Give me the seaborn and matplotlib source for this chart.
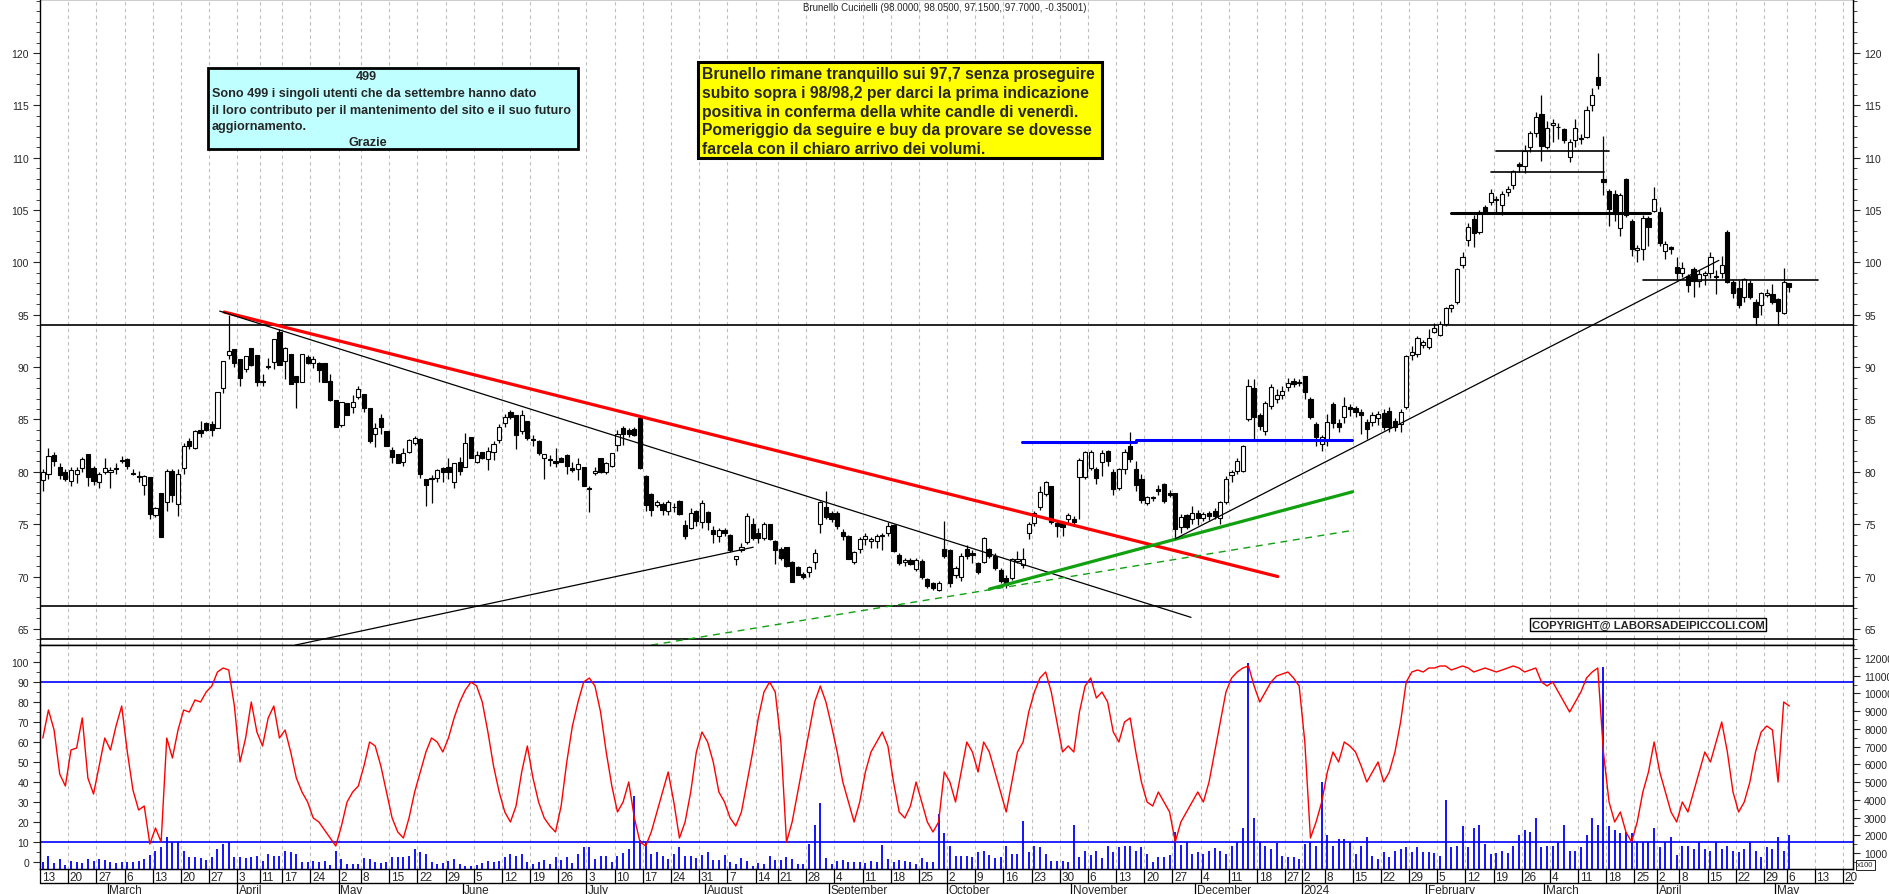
import numpy as np
import pandas as pd
import matplotlib
matplotlib.use("Agg")
import matplotlib.pyplot as plt
import matplotlib.transforms as mtransforms
from matplotlib.patches import Rectangle
from matplotlib.ticker import MultipleLocator
import seaborn as sns

# ---------------- data ----------------
holidays = ["2023-04-07", "2023-04-10", "2023-05-01", "2023-08-15", "2023-12-25",
            "2023-12-26", "2024-01-01", "2024-03-29", "2024-04-01", "2024-05-01"]

opens = [
    79.2, 79.8, 81.6, 80.5, 80.0, 79.1, 79.8, 80.4, 81.7, 80.4,
    79.0, 80.0, 80.0, 80.4, 81.0, 81.2, 79.9, 79.6, 78.7, 79.5,
    75.9, 78.0, 77.1, 80.1, 76.9, 80.4, 82.9, 82.3, 84.0, 84.7,
    84.6, 84.2, 88.0, 91.2, 91.7, 90.8, 89.8, 91.8, 91.2,
    88.7, 90.0, 90.5, 93.4, 90.6, 91.3, 89.2, 88.6, 91.0,
    90.4, 90.4, 90.4, 88.7, 86.9, 84.5, 86.6, 86.2, 87.1,
    87.4, 86.1, 83.6, 85.1, 83.9, 82.1, 81.7, 80.9, 81.9, 82.8,
    83.1, 79.3, 79.3, 79.4, 80.4, 80.5, 79.0, 80.9, 80.5, 83.3,
    80.9, 81.9, 81.2, 81.9, 83.0, 84.7, 85.7, 85.4, 83.9, 84.9,
    83.1, 82.9, 81.3, 81.2, 81.0, 81.3, 81.6, 80.4, 80.3, 80.5,
    78.4, 79.9, 81.3, 80.0, 80.6, 82.6, 84.2, 84.0, 84.1, 85.1,
    79.6, 77.9, 76.8, 76.9, 76.3, 76.6, 77.2, 74.9, 74.6, 76.3,
    75.2, 76.2, 74.4, 73.9, 74.4, 74.0, 71.7, 72.5, 73.3, 75.0,
    74.2, 73.7, 75.0, 73.4, 72.6, 72.8, 71.4, 70.9, 70.2,
    70.4, 71.4, 75.0, 76.6, 76.1, 76.1, 74.3, 73.9, 71.4, 72.6,
    73.6, 73.4, 73.4, 73.9, 74.2, 74.9, 72.1, 71.4, 71.6, 70.7,
    71.5, 69.8, 69.4, 68.7, 72.6, 72.5, 70.1, 70.0, 72.6, 72.2,
    71.3, 71.4, 72.6, 72.0, 70.6, 69.9, 69.9, 71.5, 71.1, 74.2,
    75.1, 76.6, 77.9, 78.6, 75.1, 75.2, 75.5, 75.5, 79.5, 79.5,
    80.4, 80.3, 80.9, 82.0, 80.0, 78.5, 80.3, 82.5, 80.3, 79.3,
    77.0, 77.6, 78.4, 78.8, 78.0, 78.0, 74.7, 75.9, 75.5, 76.1,
    75.6, 76.1, 76.3, 75.6, 77.1, 79.7, 80.1, 80.1, 85.0, 88.0,
    85.4, 83.9, 86.3, 87.0, 87.3, 88.1, 88.7, 88.6,
    89.2, 87.0, 84.6, 82.7, 83.0, 86.5, 84.7, 85.2, 86.2,
    86.1, 85.7, 84.8, 84.8, 85.1, 85.6, 85.8, 84.9, 84.6, 86.2,
    91.2, 91.3, 92.1, 91.9, 93.4, 93.1, 94.1, 95.6, 96.2, 99.8,
    102.1, 104.1, 102.9, 105.3, 105.8, 106.0, 105.5, 106.7, 107.4, 109.4,
    109.2, 111.0, 112.4, 114.2, 111.0, 113.1, 112.9, 112.7, 110.1, 111.7,
    111.8, 112.0, 115.0, 117.7, 108.0, 106.8, 106.5, 103.3, 108.0, 104.0,
    101.2, 101.3, 104.2, 104.9, 104.8, 101.1, 101.5, 99.6,
    99.0, 98.7, 99.4, 98.2, 98.8, 99.0, 98.7, 99.0, 102.9, 98.1,
    97.6, 96.7, 98.0, 96.2, 95.9, 96.9, 97.0, 96.5, 95.2, 98.0,
]

highs = [
    80.3, 82.3, 81.9, 80.8, 80.3, 80.5, 80.5, 81.4, 81.7, 80.6,
    80.0, 81.3, 80.5, 80.8, 81.5, 81.3, 80.3, 80.1, 79.7, 79.5,
    76.6, 78.0, 80.3, 80.3, 80.3, 82.8, 83.2, 84.0, 84.9, 84.8,
    84.9, 87.6, 90.6, 95.0, 91.7, 90.8, 91.1, 91.8, 91.2,
    89.3, 90.9, 92.7, 93.6, 91.9, 91.3, 89.2, 91.3, 91.2,
    91.1, 90.5, 90.4, 89.3, 86.9, 86.7, 86.6, 87.3, 88.2,
    87.4, 86.1, 84.7, 85.5, 83.9, 82.4, 81.7, 82.3, 83.1, 83.4,
    83.2, 79.3, 79.7, 80.3, 80.5, 81.3, 80.8, 81.4, 83.7, 83.3,
    82.0, 81.9, 82.4, 82.9, 84.6, 85.5, 85.9, 85.4, 85.9, 84.9,
    83.5, 83.0, 81.7, 81.6, 82.3, 81.4, 81.7, 80.9, 81.3, 80.5,
    78.6, 80.5, 81.3, 80.9, 81.8, 84.0, 84.4, 84.2, 84.3, 85.1,
    79.7, 78.0, 77.3, 77.1, 77.3, 77.0, 77.3, 75.4, 76.5, 76.4,
    77.3, 76.3, 74.8, 74.6, 74.6, 74.1, 72.0, 73.2, 76.1, 75.6,
    74.6, 75.2, 75.0, 73.5, 72.8, 72.8, 71.5, 71.0, 70.4,
    71.0, 72.6, 77.2, 78.2, 76.3, 76.3, 74.5, 74.0, 72.4, 73.8,
    74.2, 73.8, 74.1, 74.2, 75.2, 75.0, 72.2, 71.8, 71.8, 71.8,
    71.7, 69.9, 69.5, 69.6, 75.3, 72.6, 71.0, 72.2, 73.0, 72.5,
    71.4, 73.8, 72.7, 72.2, 70.8, 70.1, 71.8, 72.4, 72.7, 75.2,
    76.3, 78.6, 79.1, 78.6, 75.3, 75.3, 76.1, 75.8, 81.3, 82.0,
    82.1, 80.5, 82.1, 82.1, 80.3, 80.4, 82.2, 83.8, 81.0, 79.8,
    77.7, 77.7, 78.7, 78.9, 78.3, 78.0, 76.0, 76.0, 76.7, 76.4,
    76.2, 76.3, 76.5, 77.2, 79.6, 80.2, 81.3, 82.6, 88.9, 88.9,
    85.6, 86.8, 88.4, 87.9, 88.2, 89.0, 89.0, 88.9,
    89.2, 87.1, 84.8, 83.5, 85.5, 86.7, 85.0, 87.1, 86.5,
    86.3, 86.0, 85.0, 85.7, 85.8, 86.0, 86.2, 85.1, 86.0, 91.2,
    92.0, 93.0, 92.6, 93.6, 94.2, 94.4, 95.7, 96.0, 99.5, 101.0,
    103.8, 104.5, 105.0, 105.5, 107.0, 106.3, 106.8, 107.3, 108.8, 109.6,
    111.2, 112.6, 114.4, 116.0, 113.5, 113.7, 113.3, 112.8, 111.8, 113.7,
    112.3, 114.9, 116.7, 120.0, 112.1, 107.0, 106.9, 106.6, 108.1, 104.1,
    101.7, 104.5, 104.4, 107.2, 105.3, 102.0, 101.6, 100.5,
    100.0, 98.9, 99.6, 99.3, 99.2, 101.0, 99.3, 100.6, 103.1, 98.3,
    98.3, 98.5, 98.3, 96.5, 97.2, 97.5, 97.9, 96.6, 99.5, 98.05,
]

lows = [
    78.2, 79.3, 80.6, 79.3, 79.1, 78.6, 78.9, 80.0, 78.6, 78.7,
    78.5, 79.8, 78.5, 79.8, 80.8, 80.3, 79.7, 79.0, 77.8, 75.5,
    75.7, 73.8, 76.3, 77.1, 75.8, 79.8, 82.2, 82.2, 83.3, 83.9,
    83.4, 84.2, 87.5, 90.8, 90.0, 88.2, 89.5, 90.1, 88.2,
    88.2, 89.8, 89.8, 90.2, 88.9, 88.4, 86.1, 88.6, 90.3,
    89.9, 88.6, 88.6, 86.8, 84.3, 84.3, 85.4, 85.6, 87.0,
    85.7, 82.8, 82.4, 83.6, 82.5, 80.8, 80.8, 80.6, 81.8, 82.6,
    79.4, 76.7, 77.0, 79.0, 79.0, 79.3, 78.5, 79.7, 80.5, 81.3,
    80.8, 81.2, 80.2, 81.1, 82.8, 84.3, 85.0, 82.2, 83.6, 83.0,
    82.5, 81.6, 79.3, 80.6, 80.5, 80.9, 79.8, 80.0, 79.2, 78.6,
    76.2, 79.7, 79.9, 79.8, 80.5, 82.0, 82.6, 83.3, 83.4, 80.3,
    76.3, 75.8, 76.6, 75.9, 75.9, 76.2, 75.9, 73.6, 74.5, 74.8,
    74.6, 74.4, 73.2, 73.3, 73.9, 72.3, 71.1, 72.3, 73.1, 73.5,
    73.2, 73.5, 73.5, 71.2, 71.6, 70.9, 69.5, 70.1, 69.8,
    70.0, 70.7, 74.2, 75.5, 75.2, 74.5, 73.5, 71.7, 71.2, 72.2,
    73.0, 72.7, 72.7, 72.5, 73.9, 72.3, 71.1, 71.0, 71.1, 70.5,
    69.8, 68.9, 68.7, 68.6, 71.8, 69.0, 69.9, 69.6, 71.7, 71.3,
    70.2, 71.3, 71.8, 70.6, 69.4, 68.9, 69.7, 71.3, 70.8, 73.6,
    74.8, 76.4, 77.7, 75.0, 73.8, 73.9, 75.0, 74.8, 75.5, 79.3,
    80.2, 78.8, 79.6, 80.6, 77.8, 78.3, 79.8, 80.9, 78.2, 77.0,
    76.8, 77.2, 77.8, 77.0, 77.6, 73.6, 74.2, 74.5, 75.0, 74.9,
    75.3, 75.4, 75.5, 75.0, 76.9, 79.0, 79.8, 80.0, 84.9, 83.1,
    84.0, 83.5, 86.0, 86.6, 87.0, 87.7, 88.1, 88.2,
    87.0, 85.0, 82.5, 82.0, 82.5, 84.2, 83.8, 84.7, 85.3,
    85.2, 83.6, 83.1, 84.4, 84.5, 84.0, 83.8, 83.9, 83.8, 86.0,
    90.7, 91.0, 91.8, 91.7, 93.3, 93.0, 93.9, 95.3, 96.0, 99.5,
    101.6, 101.5, 102.7, 104.6, 105.5, 104.8, 104.5, 106.3, 107.0, 108.6,
    108.5, 110.5, 112.0, 109.7, 110.8, 111.5, 111.8, 111.4, 109.6, 111.0,
    111.3, 111.9, 114.5, 116.6, 106.4, 103.5, 104.0, 102.5, 104.3, 100.6,
    100.0, 100.2, 101.6, 104.8, 101.6, 100.3, 100.8, 98.4,
    98.6, 97.2, 96.7, 97.7, 97.8, 98.5, 97.0, 98.5, 98.0, 96.6,
    95.6, 96.2, 96.5, 94.0, 95.0, 96.7, 96.0, 94.0, 95.1, 97.15,
]

closes = [
    80.0, 81.5, 81.0, 79.7, 79.3, 80.2, 80.2, 81.2, 79.5, 79.1,
    79.8, 80.4, 80.2, 80.3, 81.1, 80.6, 79.8, 79.5, 79.6, 76.0,
    76.5, 73.8, 80.1, 77.8, 79.8, 82.5, 82.5, 83.9, 83.7, 84.0,
    84.0, 87.6, 90.6, 91.5, 90.4, 89.0, 91.1, 90.2, 88.6,
    88.6, 90.1, 92.7, 90.2, 91.8, 88.4, 88.6, 91.3, 90.4,
    90.8, 89.7, 88.6, 86.9, 84.3, 86.7, 85.4, 86.7, 87.9,
    86.1, 82.9, 84.2, 84.3, 82.5, 81.4, 80.8, 81.8, 83.0, 83.2,
    79.8, 78.7, 79.4, 80.2, 80.0, 80.0, 80.8, 80.1, 82.8, 81.3,
    81.6, 81.3, 82.0, 82.7, 84.3, 85.2, 85.2, 83.5, 85.4, 83.2,
    83.0, 81.8, 81.7, 81.1, 80.8, 80.9, 80.6, 80.2, 80.7, 78.6,
    78.4, 80.1, 80.0, 80.8, 81.8, 83.6, 83.6, 83.6, 83.5, 80.4,
    76.8, 76.4, 77.1, 76.4, 77.1, 76.6, 76.0, 73.9, 76.1, 75.3,
    77.0, 75.2, 74.1, 74.4, 74.2, 72.5, 72.0, 72.8, 75.8, 73.7,
    73.7, 75.0, 73.6, 72.5, 71.8, 71.0, 69.5, 70.1, 70.0,
    70.9, 72.2, 77.1, 75.7, 75.5, 74.8, 73.9, 71.7, 72.3, 73.6,
    73.9, 73.6, 73.9, 74.0, 74.8, 72.4, 71.3, 71.6, 71.2, 71.6,
    70.0, 69.1, 68.9, 69.4, 72.0, 69.4, 70.8, 72.0, 72.0, 72.1,
    70.4, 73.7, 72.0, 70.8, 69.6, 69.2, 71.7, 71.7, 71.7, 75.0,
    76.1, 78.1, 79.0, 75.2, 74.8, 74.7, 75.9, 75.2, 81.1, 81.9,
    81.9, 79.4, 81.8, 81.0, 78.4, 80.3, 81.9, 81.2, 78.7, 77.3,
    77.6, 77.5, 78.2, 77.2, 77.8, 74.5, 75.7, 74.7, 76.1, 75.6,
    76.0, 75.8, 75.8, 77.1, 79.3, 80.0, 81.0, 82.5, 88.2, 85.2,
    84.4, 86.6, 88.1, 87.3, 87.7, 88.5, 88.4, 88.5,
    87.6, 85.2, 83.3, 83.3, 84.8, 84.7, 84.3, 86.3, 86.0,
    85.7, 85.4, 84.1, 85.4, 85.5, 84.3, 84.3, 84.3, 85.7, 91.1,
    91.4, 92.8, 92.4, 92.8, 93.7, 94.1, 95.6, 95.9, 99.4, 100.5,
    103.4, 102.8, 104.8, 104.7, 106.6, 106.0, 106.5, 107.0, 108.7, 109.2,
    110.6, 112.4, 113.9, 111.1, 112.8, 113.3, 112.9, 111.7, 111.5, 112.8,
    111.9, 114.6, 116.0, 116.9, 107.7, 105.1, 104.6, 106.4, 104.5, 101.3,
    101.4, 104.2, 103.4, 106.1, 101.9, 101.8, 101.3, 99.0,
    99.5, 97.8, 98.2, 98.9, 99.0, 100.5, 98.6, 99.8, 98.1, 97.1,
    95.9, 98.4, 96.7, 94.8, 97.1, 97.1, 96.2, 95.4, 98.1, 97.7,
]

# volume, in hundreds of shares (right scale "x100")
volume = [
    512, 850, 436, 662, 324, 568, 512, 436, 662, 568, 662, 624, 512, 436, 474,
    474, 474, 568, 662, 888, 1132, 1320, 1900, 1602, 1640, 1132, 756, 756, 700, 600,
    756, 1226, 1508, 1640, 756, 756, 700, 756, 850, 568, 944, 850, 850, 1132, 1076,
    944, 474, 512, 568, 474, 568, 324, 1132, 662, 380, 380, 380, 700, 662, 512,
    436, 474, 756, 756, 756, 850, 1226, 1038, 944, 474, 380, 436, 568, 662, 380,
    248, 286, 324, 436, 568, 474, 568, 756, 944, 812, 944, 474, 380, 512, 624,
    380, 756, 624, 756, 436, 944, 1320, 1320, 662, 850, 850, 512, 850, 1000, 1226,
    4200, 1734, 1602, 944, 1038, 850, 662, 944, 1320, 850, 850, 700,
    888, 1038, 624, 624, 888, 474, 380, 700, 568, 286, 436, 380, 812, 624, 624,
    756, 662, 380, 380, 1508, 2600, 3800, 700, 380, 568, 624, 474, 474, 474, 436,
    568, 512, 1450, 662, 512, 624, 568, 474, 380, 700, 474, 474, 3200, 2100, 1376,
    812, 812, 812, 756, 1038, 1132, 888, 700, 756, 1376, 944, 944, 2800, 1076, 1376,
    1320, 944, 568, 568, 568, 512, 2600, 756, 1132, 888, 1132, 700, 1414, 1038, 1320,
    1376, 1414, 1132, 1320, 944, 512, 756, 756, 888, 2200, 1450, 1602, 944, 1038, 944,
    1132, 1264, 1132, 944, 1414, 1602, 2400, 11700, 3000, 1640, 1414, 1226, 1564, 850, 756,
    756, 662, 1508, 1602, 1414, 5000, 2000, 1414, 1800, 1800, 1602, 944, 1414, 1900, 850,
    662, 1038, 756, 1132, 1200, 1320, 1038, 1320, 1076, 1076, 1000, 850, 4000, 1320, 1414,
    2500, 1320, 2400, 2600, 1508, 944, 1000, 1132, 1000, 1414, 2000, 2300, 2200, 3000, 1320,
    1414, 1414, 1602, 2600, 1132, 1132, 1320, 2000, 3000, 2600, 11500, 2500, 2300, 2100, 2200,
    2100, 1602, 1602, 1602, 2400, 1320, 1602, 1900, 888, 1414, 1414, 1226, 1602, 1226, 1132,
    1602, 1226, 1414, 1132, 1038, 1226, 1602, 1132, 756, 1320, 1226, 1900, 1100, 2000,
]

# oscillator (red line, left scale 0-100)
stoch = [
    62, 76, 66, 44, 38, 56, 57, 72, 42, 34, 48, 62, 56, 68, 78,
    55, 36, 26, 28, 9, 17, 10, 62, 52, 66, 76, 75, 81, 80, 85,
    88, 95, 97, 96, 78, 50, 62, 80, 65, 58, 72, 78, 62, 66, 55,
    42, 35, 30, 22, 20, 16, 12, 8, 18, 30, 35, 38, 48, 60, 58,
    48, 35, 22, 15, 12, 22, 35, 45, 55, 62, 60, 55, 62, 72, 80,
    86, 90, 88, 80, 65, 48, 35, 25, 20, 28, 45, 58, 42, 30, 22,
    18, 15, 28, 50, 68, 80, 90, 92, 88, 75, 55, 38, 25, 30, 40,
    22, 10, 8, 15, 25, 35, 45, 30, 12, 20, 35, 55, 65, 60, 50,
    35, 30, 22, 18, 25, 40, 55, 72, 85, 90, 85, 60, 10, 20, 35,
    50, 65, 80, 88, 80, 68, 55, 40, 30, 20, 30, 45, 55, 60, 65,
    58, 40, 25, 22, 28, 40, 30, 20, 15, 20, 45, 40, 30, 45, 60,
    55, 45, 60, 55, 45, 35, 25, 40, 55, 60, 75, 85, 92, 95, 85,
    70, 55, 58, 55, 75, 88, 92, 82, 85, 80, 65, 60, 70, 72, 55,
    40, 30, 28, 35, 30, 25, 10, 20, 25, 30, 35, 30, 40, 55, 70,
    85, 92, 95, 97, 98, 88, 80, 85, 90, 93, 94, 95, 92, 88, 60,
    12, 20, 30, 45, 55, 50, 60, 58, 55, 48, 40, 45, 50, 40, 45,
    55, 70, 90, 95, 96, 95, 97, 97, 98, 98, 96, 97, 98, 97, 95,
    96, 97, 96, 95, 96, 97, 98, 97, 95, 96, 97, 90, 88, 90, 85,
    80, 75, 80, 85, 92, 95, 97, 55, 30, 20, 25, 15, 10, 20, 35,
    45, 60, 45, 35, 25, 20, 30, 25, 35, 45, 55, 50, 60, 70, 55,
    35, 25, 30, 40, 55, 65, 68, 66, 40, 80, 78,
]

month_names = ["January", "February", "March", "April", "May", "June", "July",
               "August", "September", "October", "November", "December"]

title = "Brunello Cucinelli (98.0000, 98.0500, 97.1500, 97.7000, -0.35001)"
note_yellow = ["Brunello rimane tranquillo sui 97,7 senza proseguire",
               "subito sopra i 98/98,2 per darci la prima indicazione",
               "positiva in conferma della white candle di venerdì.",
               "Pomeriggio da seguire e buy da provare se dovesse",
               "farcela con il chiaro arrivo dei volumi."]
note_cyan = ["Sono 499 i singoli utenti che da settembre hanno dato",
             "il loro contributo per il mantenimento del sito e il suo futuro",
             "aggiornamento."]

# ---------------- dates / positions ----------------
dates = pd.bdate_range("2023-02-13", "2024-05-06")
dates = dates[~dates.isin(pd.to_datetime(holidays))]
assert len(dates) == len(closes) == len(opens) == len(highs) == len(lows)
assert len(volume) == len(closes) and len(stoch) == len(closes)
future = pd.bdate_range("2024-05-07", "2024-05-31")
axis_dates = dates.append(future)

df = pd.DataFrame({"date": dates, "open": opens, "high": highs, "low": lows,
                   "close": closes, "volume": volume, "stoch": stoch})
df["x"] = np.arange(len(df))
df["high"] = df[["high", "open", "close"]].max(axis=1)
df["low"] = df[["low", "open", "close"]].min(axis=1)

cal = pd.DataFrame({"date": axis_dates, "x": np.arange(len(axis_dates))})
iso = cal["date"].dt.isocalendar()
cal["wk"] = iso["year"].astype(int) * 100 + iso["week"].astype(int)
week_starts = cal.groupby("wk")["x"].min().sort_values()
cal["ym"] = cal["date"].dt.year * 100 + cal["date"].dt.month
month_starts = cal.groupby("ym")["x"].min().sort_values()

XMIN, XMAX = -0.5, 321.3

# ---------------- figure ----------------
sns.set_style("white")
plt.rcParams["font.family"] = ["Liberation Sans", "DejaVu Sans"]

W, H = 1890, 895
fig = plt.figure(figsize=(W / 100, H / 100), dpi=100)


def fbox(l, t, r, b):
    return [l / W, 1 - b / H, (r - l) / W, (b - t) / H]


ax1 = fig.add_axes(fbox(40, 0, 1853, 646))
ax2 = fig.add_axes(fbox(40, 646, 1853, 870))

for ax in (ax1, ax2):
    ax.set_xlim(XMIN, XMAX)
    ax.set_xticks([])
    ax.grid(False)
    for sp in ax.spines.values():
        sp.set_color("black")
        sp.set_linewidth(1.0)
    for wx in week_starts.values[1:]:
        ax.axvline(wx - 0.5, color="#bdbdbd", lw=0.8, ls=(0, (3, 3)), zorder=0)

# --- price panel ---
ax1.set_ylim(63.46, 125.16)
ax1.set_yticks(np.arange(65, 121, 5))
ax1.yaxis.set_minor_locator(MultipleLocator(1))
ax1.tick_params(axis="y", which="both", left=True, right=True, labelleft=True,
                labelright=True, direction="out", labelsize=7.5, pad=3)
ax1.tick_params(axis="y", which="major", length=5)
ax1.tick_params(axis="y", which="minor", length=3)

up = df["close"] >= df["open"]
ax1.vlines(df["x"], df["low"], df["high"], color="black", lw=0.9, zorder=3)
body_h = (df["close"] - df["open"]).abs().clip(lower=0.07)
body_b = df[["open", "close"]].min(axis=1)
ax1.bar(df["x"][up], body_h[up], bottom=body_b[up], width=0.74, color="white",
        edgecolor="black", linewidth=0.8, zorder=4)
ax1.bar(df["x"][~up], body_h[~up], bottom=body_b[~up], width=0.74, color="black",
        edgecolor="black", linewidth=0.8, zorder=4)

# support / resistance lines
for lvl in (94.0, 67.2, 64.0):
    ax1.axhline(lvl, color="black", lw=1.2, zorder=2)

ax1.plot([32.2, 219.2], [95.26, 70.0], color="#ff0000", lw=2.3, zorder=5)
ax1.plot([31.4, 203.8], [95.35, 66.1], color="black", lw=0.9, zorder=5)
ax1.plot([44.8, 126.1], [63.45, 72.8], color="black", lw=0.9, zorder=5)
ax1.plot([108.0, 232.4], [63.45, 74.4], color="#10a010", lw=1.0, ls=(0, (5, 4)), zorder=5)
ax1.plot([168.0, 232.5], [68.8, 78.1], color="#10a010", lw=2.3, zorder=5)
ax1.plot([173.8, 194.0], [82.88, 82.88], color="#0000ff", lw=2.2, zorder=5)
ax1.plot([194.0, 232.4], [83.0, 83.0], color="#0000ff", lw=2.2, zorder=5)
ax1.plot([201.0, 297.5], [73.6, 100.2], color="black", lw=0.9, zorder=5)
ax1.plot([249.9, 285.2], [104.7, 104.7], color="black", lw=2.2, zorder=5)
ax1.plot([257.1, 277.1], [108.6, 108.6], color="black", lw=1.2, zorder=5)
ax1.plot([258.0, 278.0], [110.6, 110.6], color="black", lw=1.2, zorder=5)
ax1.plot([284.1, 315.0], [98.3, 98.3], color="black", lw=1.2, zorder=5)

# --- indicator panel ---
ax2.set_ylim(-3.5, 108.5)
ax2.set_yticks(np.arange(0, 101, 10))
ax2.yaxis.set_minor_locator(MultipleLocator(5))
ax2.tick_params(axis="y", which="both", left=True, labelleft=True, direction="out",
                labelsize=7.5, pad=3)
ax2.tick_params(axis="y", which="major", length=5)
ax2.tick_params(axis="y", which="minor", length=3)
ax2.axhline(90, color="#0000ff", lw=1.2, zorder=2)
ax2.axhline(10, color="#0000ff", lw=1.2, zorder=2)

ax3 = ax2.twinx()
ax3.set_xlim(XMIN, XMAX)
ax3.set_ylim(97.6, 12732)
ax3.set_yticks(np.arange(1000, 12001, 1000))
ax3.yaxis.set_minor_locator(MultipleLocator(500))
ax3.tick_params(axis="y", which="both", right=True, direction="out", labelsize=7.5, pad=3)
ax3.tick_params(axis="y", which="major", length=5)
ax3.tick_params(axis="y", which="minor", length=3)
ax3.grid(False)
ax3.vlines(df["x"], 97.6, df["volume"], color="#0000ff", lw=1.3, zorder=1)
for sp in ax3.spines.values():
    sp.set_color("black")

sns.lineplot(x=df["x"], y=df["stoch"], ax=ax3, color="#ff0000", linewidth=1.0,
             zorder=3, transform=ax2.transData)
ax3.set_xlabel("")
ax3.set_ylabel("")
ax2.set_ylabel("")

# --- date rows ---
tr = mtransforms.blended_transform_factory(ax2.transData, ax2.transAxes)
row1, row2, row3 = -0.0625, -0.0335, -0.0925
ax2.plot([0, 1], [row1, row1], transform=ax2.transAxes, color="black", lw=1.0, clip_on=False)
for wx in week_starts.values:
    if wx - 0.5 > XMAX:
        continue
    ax2.plot([wx - 0.5, wx - 0.5], [0, row1], transform=tr, color="black", lw=0.9, clip_on=False)
    ax2.text(wx - 0.2, row2, str(cal.loc[wx, "date"].day), transform=tr, ha="left",
             va="center", fontsize=8.5, clip_on=False)
for mx in month_starts.values[1:]:
    if mx - 0.5 > XMAX:
        continue
    d = cal.loc[mx, "date"]
    lab = str(d.year) if d.month == 1 else month_names[d.month - 1]
    ax2.plot([mx - 0.5, mx - 0.5], [row1, -0.12], transform=tr, color="black", lw=0.9, clip_on=False)
    ax2.text(mx - 0.2, row3, lab, transform=tr, ha="left", va="center", fontsize=8.5, clip_on=False)

# --- texts ---
def fx(px):
    return px / W


def fy(py):
    return 1 - py / H


fig.text(fx(945), fy(8), title, ha="center", va="center", fontsize=7)

fig.add_artist(Rectangle((fx(698), fy(159)), (1102 - 698) / W, (159 - 63) / H,
                         transform=fig.transFigure, facecolor="#ffff00",
                         edgecolor="black", lw=2.2, zorder=10))
for k, line in enumerate(note_yellow):
    fig.text(fx(702), fy(75 + k * 18.6), line, ha="left", va="center", fontsize=11.3,
             fontweight="bold", zorder=11)

fig.add_artist(Rectangle((fx(208), fy(150)), (578 - 208) / W, (150 - 69) / H,
                         transform=fig.transFigure, facecolor="#c0ffff",
                         edgecolor="black", lw=2.0, zorder=10))
cyan_font = ["Liberation Sans Narrow", "Liberation Sans", "DejaVu Sans"]
fig.text(fx(366), fy(77), "499", ha="center", va="center", fontsize=9.1,
         family=cyan_font, fontweight="bold", zorder=11)
for k, line in enumerate(note_cyan):
    fig.text(fx(212), fy(94 + k * 16.6), line, ha="left", va="center", fontsize=9.1,
             family=cyan_font, fontweight="bold", zorder=11)
fig.text(fx(368), fy(143), "Grazie", ha="center", va="center", fontsize=9.1,
         family=cyan_font, fontweight="bold", zorder=11)

fig.text(fx(1648), fy(625.5), "COPYRIGHT@ LABORSADEIPICCOLI.COM", ha="center", va="center",
         fontsize=8.2, fontweight="bold", zorder=11,
         bbox=dict(facecolor="white", edgecolor="black", lw=1.0, pad=1.2))

fig.text(fx(1857), fy(866), "x100", ha="left", va="center", fontsize=5.5,
         bbox=dict(facecolor="white", edgecolor="black", lw=0.6, pad=0.8))

fig.savefig("out.png", dpi=100, facecolor="white")
